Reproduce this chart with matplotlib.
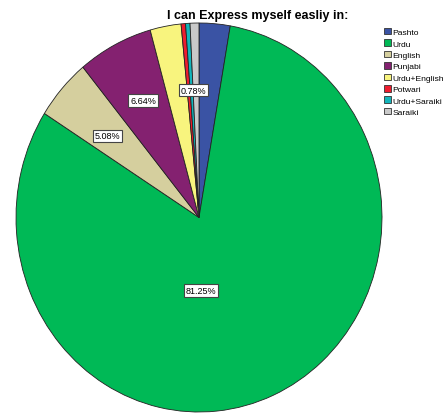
import numpy as np
import matplotlib.pyplot as plt
from matplotlib.patches import Patch

plt.rcParams['font.family'] = ['Liberation Sans', 'DejaVu Sans']

# Data (counts out of 256 respondents)
languages = ['Pashto', 'Urdu', 'English', 'Punjabi', 'Urdu+English',
             'Potwari', 'Urdu+Saraiki', 'Saraiki']
counts = [7, 208, 13, 17, 7, 1, 1, 2]
colors = ['#3a53a4', '#00b956', '#d5cf9e', '#842170', '#f8f47e',
          '#ee1c2e', '#13b5bb', '#c9c9c9']
shown = ['Urdu', 'English', 'Punjabi', 'Saraiki']
label_pos = {'Urdu': (0.01, -0.375), 'English': (-0.50, 0.42),
             'Punjabi': (-0.305, 0.60), 'Saraiki': (-0.03, 0.655)}

fig = plt.figure(figsize=(4.46, 4.14), dpi=100)
W, H = 446, 414
ax = fig.add_axes([16 / W, 1 / H, 366 / W, 389 / H])

wedges, _ = ax.pie(counts, colors=colors, startangle=90, counterclock=False,
                   wedgeprops=dict(edgecolor='#222222', linewidth=0.6))
for w in wedges:
    w.set_clip_on(False)
ax.set_aspect('auto')
ax.set_xlim(-1, 1)
ax.set_ylim(-1, 1)
ax.axis('off')

total = sum(counts)
for name, c in zip(languages, counts):
    if name in shown:
        x, y = label_pos[name]
        ax.text(x, y, f'{100 * c / total:.2f}%', ha='center', va='center',
                fontsize=6.5,
                bbox=dict(boxstyle='square,pad=0.2', fc='white',
                          ec='#444444', lw=0.8))

fig.text(258 / W, 1 - 16 / H, 'I can Express myself easliy in:',
         ha='center', va='center', fontsize=9, fontweight='bold')

handles = [Patch(facecolor=c, edgecolor='#333333', linewidth=0.6, label=l)
           for l, c in zip(languages, colors)]
fig.legend(handles=handles, loc='upper left', bbox_to_anchor=(384 / W, 1 - 29 / H),
           frameon=False, fontsize=6.1, handlelength=0.8, handleheight=0.8,
           handletextpad=0.2, labelspacing=0.38, borderpad=0, borderaxespad=0)

fig.savefig('out.png', dpi=100)
